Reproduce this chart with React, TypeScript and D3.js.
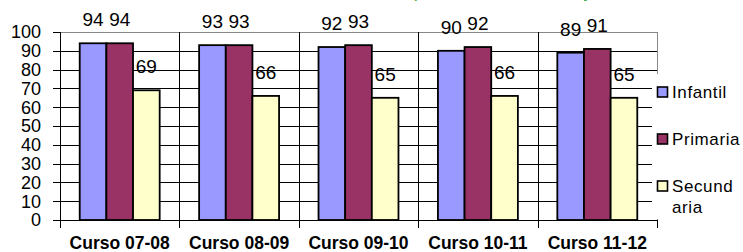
import * as d3 from 'd3';

const categories = ['Curso 07-08', 'Curso 08-09', 'Curso 09-10', 'Curso 10-11', 'Curso 11-12'];
const seriesNames = ['Infantil', 'Primaria', 'Secundaria'];
const legendLines = [['Infantil'], ['Primaria'], ['Secund', 'aria']];
const infantil = [94, 93, 92, 90, 89];
const primaria = [94, 93, 93, 92, 91];
const secundaria = [69, 66, 65, 66, 65];
const yTicks = [0, 10, 20, 30, 40, 50, 60, 70, 80, 90, 100];

const colors = ['#9999ff', '#993366', '#ffffcc'];
const font = '"Liberation Sans", Arial, sans-serif';

export default function App() {
  const width = 743;
  const height = 252;
  const left = 60;
  const right = 657;
  const top = 32;
  const bottom = 220;

  const values = [infantil, primaria, secundaria];
  const x0 = d3.scaleBand<string>().domain(categories).range([left, right]).padding(0);
  const x1 = d3.scaleBand<string>().domain(seriesNames).range([0, x0.bandwidth()]).paddingInner(0).paddingOuter(0.74);
  const y = d3.scaleLinear().domain([0, 100]).range([bottom, top]);

  const bounds = categories.map(c => x0(c) as number).concat([right]);

  return (
    <svg width={width} height={height} style={{ position: 'absolute', left: 0, top: 0, background: '#fff' }}
      fontFamily={font}>
      {/* cut-off green title */}
      <text x={414} y={-3} fontSize={18} fill="#33a833" textAnchor="middle">(</text>
      <text x={588} y={-3} fontSize={18} fill="#33a833" textAnchor="middle">y</text>

      {/* horizontal gridlines */}
      {yTicks.map(t => (
        <g key={t}>
          <line x1={53} x2={left} y1={Math.round(y(t)) + 0.5} y2={Math.round(y(t)) + 0.5} stroke="#000" />
          <line x1={left} x2={right} y1={Math.round(y(t)) + 0.5} y2={Math.round(y(t)) + 0.5}
            stroke={t === 100 ? '#888' : '#000'} />
          <text x={41} y={y(t)} dy="0.36em" fontSize={18} textAnchor="end" fill="#000">{t}</text>
        </g>
      ))}

      {/* vertical gridlines */}
      {bounds.map((b, i) => (
        <g key={i}>
          <line x1={Math.round(b) + 0.5} x2={Math.round(b) + 0.5} y1={top} y2={bottom}
            stroke={i === bounds.length - 1 ? '#888' : '#000'} />
          <line x1={Math.round(b) + 0.5} x2={Math.round(b) + 0.5} y1={bottom} y2={228} stroke="#000" />
        </g>
      ))}

      {/* bars */}
      {categories.map((c, ci) => (
        <g key={c} transform={`translate(${x0(c)},0)`}>
          {seriesNames.map((s, si) => {
            const v = values[si][ci];
            const bx = x1(s) as number;
            return (
              <g key={s}>
                <rect x={bx} y={y(v)} width={x1.bandwidth()} height={bottom - y(v)}
                  fill={colors[si]} stroke="#000" strokeWidth={1.8} />
                <text x={bx + x1.bandwidth() / 2} y={y(v) - 17} fontSize={19} textAnchor="middle"
                  fill="#000">{v}</text>
              </g>
            );
          })}
          <text x={x0.bandwidth() / 2} y={249} fontSize={17.5} fontWeight="bold" textAnchor="middle"
            fill="#000">{c}</text>
        </g>
      ))}

      {/* legend */}
      <rect x={652} y={74} width={91} height={145} fill="#fff" />
      {legendLines.map((lines, i) => {
        const cy = [92, 139, 186][i];
        return (
          <g key={i}>
            <rect x={657.5} y={cy - 5} width={10} height={10} fill={colors[i]} stroke="#000" strokeWidth={1.6} />
            {lines.map((l, li) => (
              <text key={li} x={672} y={cy + li * 21} dy="0.36em" fontSize={17} fill="#000"
                letterSpacing={0.6}>{l}</text>
            ))}
          </g>
        );
      })}
    </svg>
  );
}
